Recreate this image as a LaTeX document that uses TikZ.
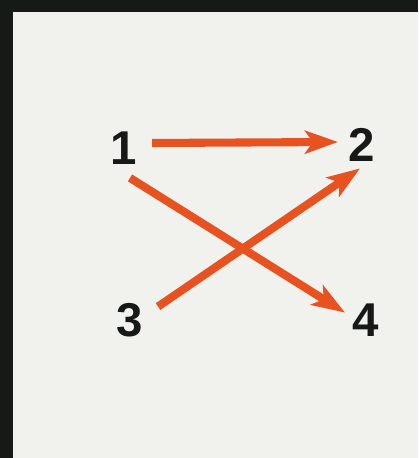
\documentclass[tikz,border=0pt]{standalone}
\usepackage{fontspec}
\setmainfont{Liberation Sans}
\usetikzlibrary{arrows.meta,calc,positioning}
\definecolor{paper}{RGB}{241,242,237}
\definecolor{frame}{RGB}{22,26,22}
\definecolor{arrorange}{RGB}{232,82,32}
\tikzset{pin/.style={draw=arrorange, line width=4.6pt, -{Stealth[length=6.6mm, width=4.6mm, inset=1.6mm]}},
  num/.style={inner sep=0pt, font=\fontsize{27}{27}\selectfont\bfseries, text=frame}}

\begin{document}
\begin{tikzpicture}
  % paper and dark frame
  \fill[paper] (0,0) rectangle (8.36,9.16);
  \fill[frame] (0,0) rectangle (0.26,9.16);
  \fill[frame] (0,8.92) rectangle (8.36,9.16);
  \useasboundingbox (0,0) rectangle (8.36,9.16);
  % numbers
  \node[num] (n1) at (2.48,6.20) {1};
  \node[num] (n2) at (7.24,6.26) {2};
  \node[num] (n3) at (2.60,2.76) {3};
  \node[num] (n4) at (7.32,2.76) {4};
  % arrows
  \draw[pin] ($(n1.east)+(2.9mm,1mm)$) -- ($(n2.west)+(-2.1mm,0.6mm)$);
  \draw[pin] ($(n1.south)+(1.2mm,-2.65mm)$) -- ($(n4.north west)+(-1.5mm,-1.85mm)$);
  \draw[pin] ($(n3.north east)+(2.9mm,-0.75mm)$) -- ($(n2.south)+(-0.4mm,-1.3mm)$);
\end{tikzpicture}
\end{document}
